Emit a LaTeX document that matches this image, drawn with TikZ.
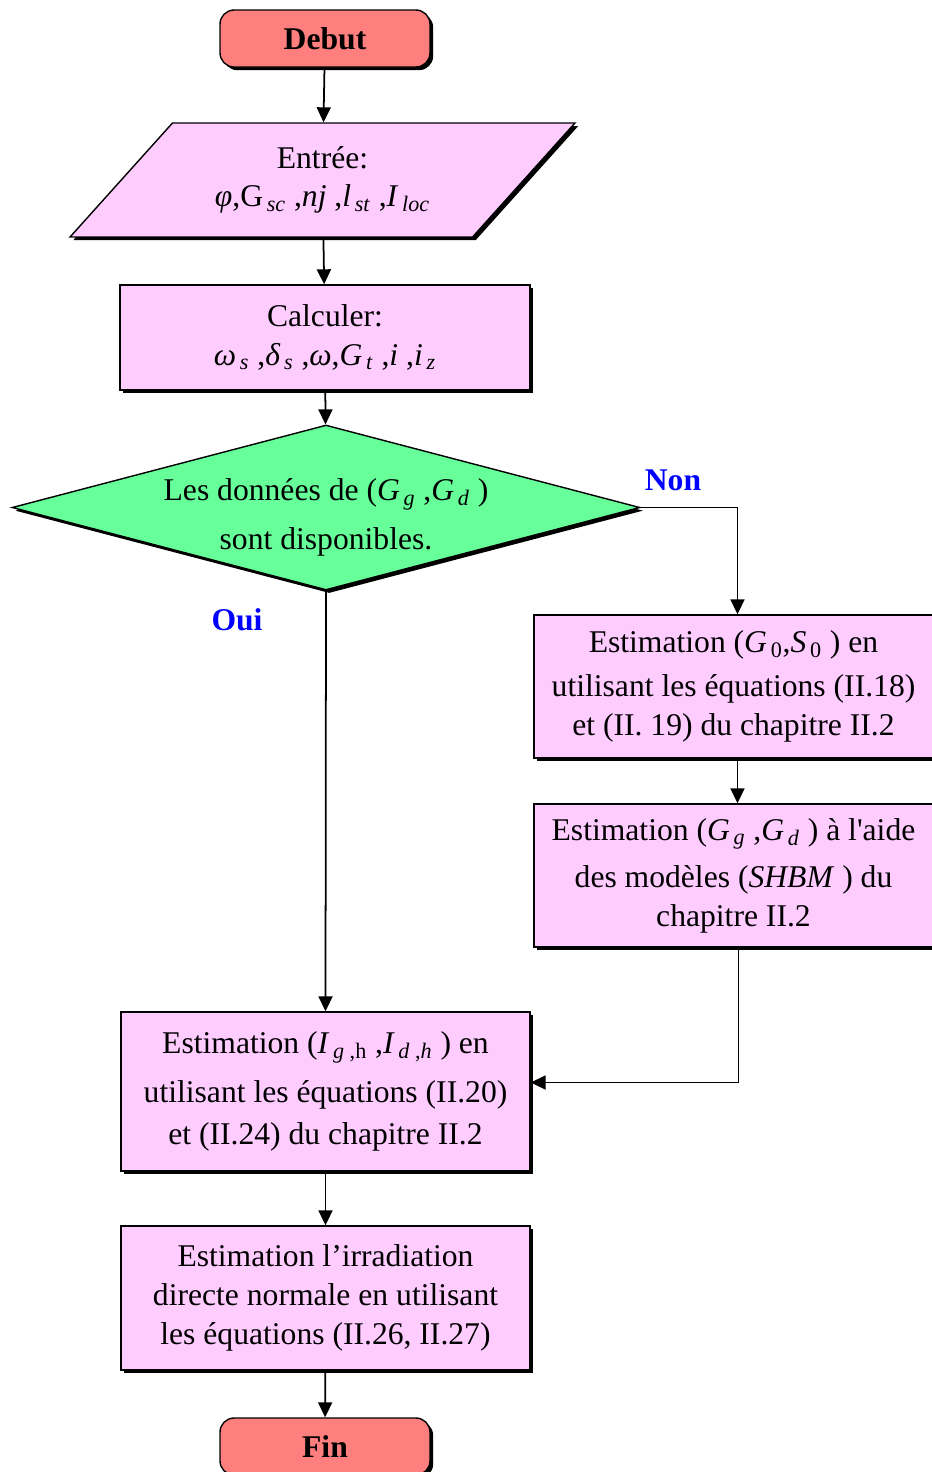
\documentclass[tikz,border=0pt]{standalone}
\usepackage{fontspec}
\setmainfont{Liberation Serif}
\usetikzlibrary{arrows.meta, positioning, shapes.geometric, shadows}
\definecolor{salmon}{HTML}{FF7F7F}
\definecolor{lpink}{HTML}{FFCCFF}
\definecolor{lgreen}{HTML}{66FF99}
\definecolor{labblue}{HTML}{0000FF}
\newcommand{\isub}[2]{\textit{#1}\textsubscript{\,\textit{#2}}}

\begin{document}
\begin{tikzpicture}[
    x=0.02cm, y=-0.02cm,
    >={Triangle[length=3mm, width=2.8mm]},
    every node/.style={font=\fontsize{18}{22}\selectfont, align=center},
    blackshadow/.style={drop shadow={shadow xshift=1.8pt, shadow yshift=-1.8pt,
      fill=black, opacity=1}},
    basenode/.style={draw, line width=0.8pt, blackshadow, inner sep=2pt},
    termnode/.style={basenode, fill=salmon, rounded corners=8pt,
      minimum width=4.2cm, minimum height=1.14cm,
      font=\fontsize{18}{22}\selectfont\bfseries},
    iobox/.style={basenode, fill=lpink, trapezium, trapezium left angle=36,
      trapezium right angle=144, trapezium stretches body,
      minimum width=10.1cm, minimum height=2.28cm},
    procbox/.style={basenode, fill=lpink, rectangle},
    testnode/.style={basenode, fill=lgreen, diamond, inner sep=0pt,
      minimum width=12.56cm, minimum height=3.3cm},
    answer/.style={font=\fontsize{18}{22}\selectfont\bfseries, text=labblue},
    arr/.style={->, line width=1pt},
  ]

  % Page
  \fill[white] (0,0) rectangle (932,1472);
  \useasboundingbox (0,0) rectangle (932,1472);

  % Main column
  \node[termnode] (debut) at (325,38.5) {Debut};
  \node[iobox] (entree) at (322.5,180) {Entrée:\\
    \textit{φ},G\textsubscript{\,\textit{sc}} ,\textit{nj} ,\isub{l}{st} ,\isub{I}{loc}};
  \node[procbox, minimum width=8.2cm, minimum height=2.1cm] (calc) at (325,337.5)
    {Calculer:\\
    \isub{ω}{s} ,\isub{δ}{s} ,\textit{ω},\isub{G}{t} ,\textit{i} ,\isub{i}{z}};
  \node[testnode, label={[yshift=-0.2cm]center:Les données de (\isub{G}{g} ,\isub{G}{d} )\\[6pt]
    sont disponibles.}] (test) at (326,507.5) {};

  % Right column
  \node[procbox, minimum width=7.98cm, minimum height=2.86cm] (estzero) at (733.5,686.5)
    {Estimation (\textit{G}\textsubscript{\,0},\textit{S}\textsubscript{\,0} ) en\\[3pt]
    utilisant les équations (II.18)\\ et (II. 19) du chapitre II.2};
  \node[procbox, minimum width=7.98cm, minimum height=2.86cm] (estshbm) at (733.5,875.5)
    {Estimation (\isub{G}{g} ,\isub{G}{d} ) à l\textquotesingle aide\\[5pt]
    des modèles (\textit{SHBM} ) du\\ chapitre II.2};

  % Lower part
  \node[procbox, minimum width=8.18cm, minimum height=3.18cm] (estirr) at (325.5,1091.5)
    {Estimation (\textit{I}\textsubscript{\,\textit{g} ,h} ,\textit{I}\textsubscript{\,\textit{d} ,\textit{h}} ) en\\[6pt]
    utilisant les équations (II.20)\\[2pt] et (II.24) du chapitre II.2};
  \node[procbox, minimum width=8.18cm, minimum height=2.88cm] (estdni) at (325.5,1298)
    {Estimation l’irradiation\\ directe normale en utilisant\\ les équations (II.26, II.27)};
  \node[termnode] (fin) at (325,1446.5) {Fin};

  % Branch labels
  \node[answer] (non) at (673,480) {Non};
  \node[answer] (oui) at (237,620) {Oui};

  % Connectors
  \draw[arr] (debut) -- (entree);
  \draw[arr] (entree) -- (calc);
  \draw[arr] (calc) -- (test);
  \draw[arr] (test.east) -| ([xshift=0.08cm]estzero.north);
  \draw[arr] ([xshift=0.08cm]estzero.south) -- ([xshift=0.08cm]estshbm.north);
  \draw[arr] ([xshift=0.1cm]estshbm.south) |- ([yshift=0.18cm]estirr.east);
  \draw[arr] (test.south) -- (estirr.north);
  \draw[arr] (estirr) -- (estdni);
  \draw[arr] (estdni) -- (fin);

\end{tikzpicture}
\end{document}
